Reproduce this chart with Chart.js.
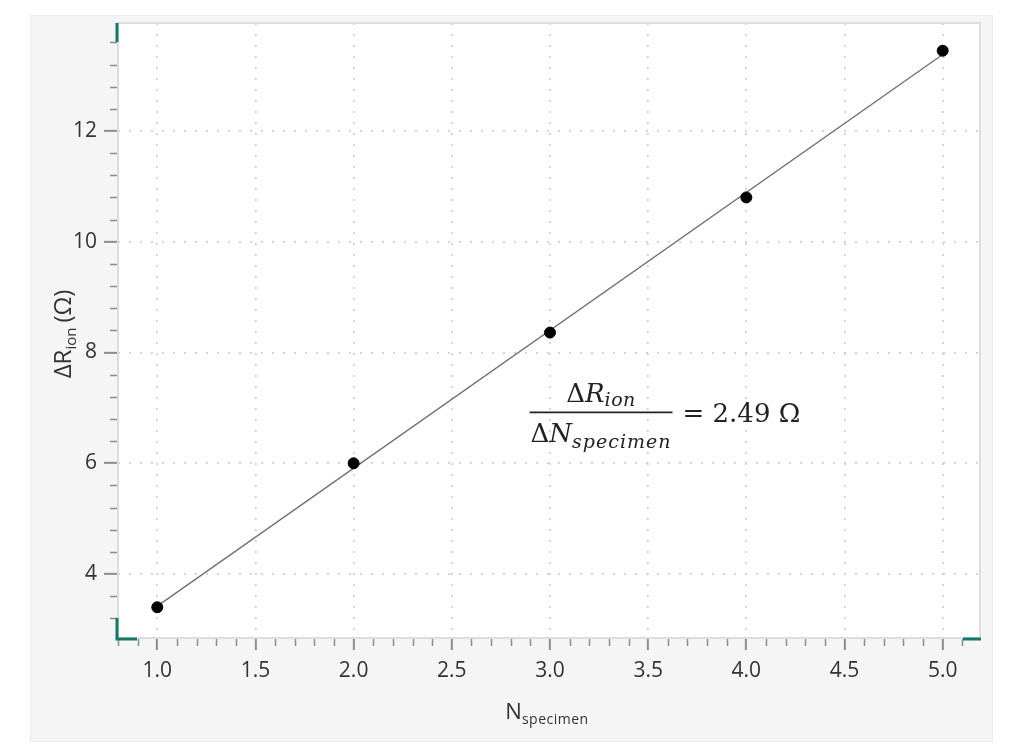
<!DOCTYPE html>
<html>
<head>
<meta charset="utf-8">
<script src="https://cdn.jsdelivr.net/npm/chart.js@4"></script>
<style>
  html, body { margin: 0; padding: 0; background: #fff; }
  canvas { display: block; }
</style>
</head>
<body>
<canvas id="chart" width="1024" height="746"></canvas>
<script>
// Số liệu
const specimenCount = [1, 2, 3, 4, 5];
const deltaR = [3.40, 6.00, 8.36, 10.80, 13.45];
const fitX = [1, 5];
const fitY = [3.42, 13.38];
const xTickValues = [1.0, 1.5, 2.0, 2.5, 3.0, 3.5, 4.0, 4.5, 5.0];
const yTickValues = [4, 6, 8, 10, 12];
const xRange = [0.8, 5.19];
const yRange = [2.845, 13.95];
const slopeLabel = '= 2.49 Ω';

const tealColor = '#137a6b';
const tickGray = '#8c8c8c';
const textColor = '#333333';

// Vẽ một chuỗi chữ gồm nhiều đoạn (chữ thường + chỉ số dưới)
function drawRuns(ctx, runs, x, y, measureOnly) {
    let cx = x;
    runs.forEach(run => {
        ctx.font = run.font;
        ctx.letterSpacing = run.ls || '0px';
        const w = ctx.measureText(run.text).width;
        if (!measureOnly) ctx.fillText(run.text, cx, y + (run.dy || 0));
        cx += w + (run.gap || 0);
    });
    ctx.letterSpacing = '0px';
    return cx - x;
}

const decorPlugin = {
    id: 'decor',
    beforeDraw(chart) {
        const ctx = chart.ctx;
        const a = chart.chartArea;
        ctx.save();
        ctx.fillStyle = '#ffffff';
        ctx.fillRect(0, 0, chart.width, chart.height);
        ctx.fillStyle = '#f5f5f5';
        ctx.fillRect(30, 15, 963, 727);
        ctx.strokeStyle = '#ececec';
        ctx.lineWidth = 1;
        ctx.strokeRect(30.5, 15.5, 962, 726);
        ctx.fillStyle = '#ffffff';
        ctx.fillRect(a.left, a.top, a.right - a.left, a.bottom - a.top);
        ctx.restore();
    },
    afterDraw(chart) {
        const ctx = chart.ctx;
        const a = chart.chartArea;
        const xs = chart.scales.x;
        const ys = chart.scales.y;
        ctx.save();

        // khung vùng vẽ
        ctx.strokeStyle = '#dddddd';
        ctx.lineWidth = 2;
        ctx.strokeRect(a.left, a.top, a.right - a.left, a.bottom - a.top);

        // vạch chia phụ
        ctx.strokeStyle = tickGray;
        ctx.lineWidth = 1.5;
        for (let i = 8; i <= 51; i++) {
            if (i % 5 === 0) continue;
            const px = Math.round(xs.getPixelForValue(i / 10)) + 0.5;
            ctx.beginPath();
            ctx.moveTo(px, a.bottom + 1);
            ctx.lineTo(px, a.bottom + 8);
            ctx.stroke();
        }
        for (let i = 8; i <= 34; i++) {
            if (i % 5 === 0) continue;
            const py = Math.round(ys.getPixelForValue(i * 0.4)) + 0.5;
            ctx.beginPath();
            ctx.moveTo(a.left - 8, py);
            ctx.lineTo(a.left - 1, py);
            ctx.stroke();
        }

        // tay nắm màu xanh ở góc trục
        ctx.strokeStyle = tealColor;
        ctx.lineWidth = 3;
        ctx.beginPath();
        ctx.moveTo(a.left - 1, a.top);
        ctx.lineTo(a.left - 1, a.top + 19);
        ctx.stroke();
        ctx.beginPath();
        ctx.moveTo(a.left - 1, a.bottom - 20);
        ctx.lineTo(a.left - 1, a.bottom + 1);
        ctx.lineTo(a.left + 19, a.bottom + 1);
        ctx.stroke();
        ctx.beginPath();
        ctx.moveTo(a.right - 17, a.bottom + 1);
        ctx.lineTo(a.right + 1, a.bottom + 1);
        ctx.stroke();

        // tiêu đề trục x
        ctx.fillStyle = textColor;
        ctx.textBaseline = 'alphabetic';
        ctx.textAlign = 'left';
        const xTitle = [
            { text: 'N', font: '22px "Open Sans"' },
            { text: 'specimen', font: '14px "Open Sans"', dy: 5, ls: '0.5px' }
        ];
        const xw = drawRuns(ctx, xTitle, 0, 0, true);
        drawRuns(ctx, xTitle, 547 - xw / 2, 719);

        // tiêu đề trục y (xoay)
        const yTitle = [
            { text: 'ΔR', font: '24px "Open Sans"' },
            { text: 'ion', font: '15px "Open Sans"', dy: 5, gap: 5 },
            { text: '(Ω)', font: '24px "Open Sans"' }
        ];
        const yw = drawRuns(ctx, yTitle, 0, 0, true);
        ctx.save();
        ctx.translate(71, 334);
        ctx.rotate(-Math.PI / 2);
        drawRuns(ctx, yTitle, -yw / 2, 0);
        ctx.restore();

        // công thức độ dốc
        const serif = '"DejaVu Serif"';
        const num = [
            { text: 'Δ', font: `26px ${serif}` },
            { text: 'R', font: `italic 26px ${serif}` },
            { text: 'ion', font: `italic 19px ${serif}`, dy: 4, ls: '0.5px' }
        ];
        const den = [
            { text: 'Δ', font: `26px ${serif}` },
            { text: 'N', font: `italic 26px ${serif}` },
            { text: 'specimen', font: `italic 19px ${serif}`, dy: 6, ls: '1px' }
        ];
        ctx.fillStyle = '#222222';
        const cx = xs.getPixelForValue(3.26);
        const lineY = ys.getPixelForValue(6.92);
        const nw = drawRuns(ctx, num, 0, 0, true);
        const dw = drawRuns(ctx, den, 0, 0, true);
        const fw = Math.max(nw, dw) + 2;
        drawRuns(ctx, num, cx - nw / 2, lineY - 10);
        drawRuns(ctx, den, cx - dw / 2, lineY + 30);
        ctx.strokeStyle = '#222222';
        ctx.lineWidth = 1.8;
        ctx.beginPath();
        ctx.moveTo(cx - fw / 2, lineY);
        ctx.lineTo(cx + fw / 2, lineY);
        ctx.stroke();
        ctx.font = `26px ${serif}`;
        ctx.fillText(slopeLabel, cx + fw / 2 + 10, lineY + 10);

        ctx.restore();
    }
};

const ctx = document.getElementById('chart').getContext('2d');
new Chart(ctx, {
    type: 'scatter',
    data: {
        datasets: [{
            label: 'ΔR',
            data: specimenCount.map((x, i) => ({ x: x, y: deltaR[i] })),
            backgroundColor: '#000000',
            borderColor: '#000000',
            pointRadius: 5.5,
            order: 0
        }, {
            label: 'fit',
            data: fitX.map((x, i) => ({ x: x, y: fitY[i] })),
            showLine: true,
            borderColor: '#6e6e6e',
            borderWidth: 1.3,
            pointRadius: 0,
            order: 1
        }]
    },
    options: {
        responsive: false,
        animation: false,
        devicePixelRatio: 1,
        layout: { padding: { top: 23, right: 44, left: 0, bottom: 0 } },
        plugins: {
            legend: { display: false },
            tooltip: { enabled: false }
        },
        scales: {
            x: {
                type: 'linear',
                min: xRange[0],
                max: xRange[1],
                afterBuildTicks: scale => { scale.ticks = xTickValues.map(v => ({ value: v })); },
                afterFit: scale => { scale.height = 108; },
                ticks: {
                    color: textColor,
                    font: { family: 'Open Sans', size: 21 },
                    padding: 8,
                    maxRotation: 0,
                    autoSkip: false,
                    callback: v => Number(v).toFixed(1)
                },
                grid: {
                    color: '#cfcfcf',
                    lineWidth: 1.7,
                    tickColor: tickGray,
                    tickWidth: 2,
                    tickLength: 12
                },
                border: { display: false, dash: [2, 9] }
            },
            y: {
                type: 'linear',
                min: yRange[0],
                max: yRange[1],
                afterBuildTicks: scale => { scale.ticks = yTickValues.map(v => ({ value: v })); },
                afterFit: scale => { scale.width = 118; },
                ticks: {
                    color: textColor,
                    font: { family: 'Open Sans', size: 21 },
                    padding: 7,
                    autoSkip: false
                },
                grid: {
                    color: '#cfcfcf',
                    lineWidth: 1.7,
                    tickColor: tickGray,
                    tickWidth: 2,
                    tickLength: 14
                },
                border: { display: false, dash: [2, 9] }
            }
        }
    },
    plugins: [decorPlugin]
});
</script>
</body>
</html>
